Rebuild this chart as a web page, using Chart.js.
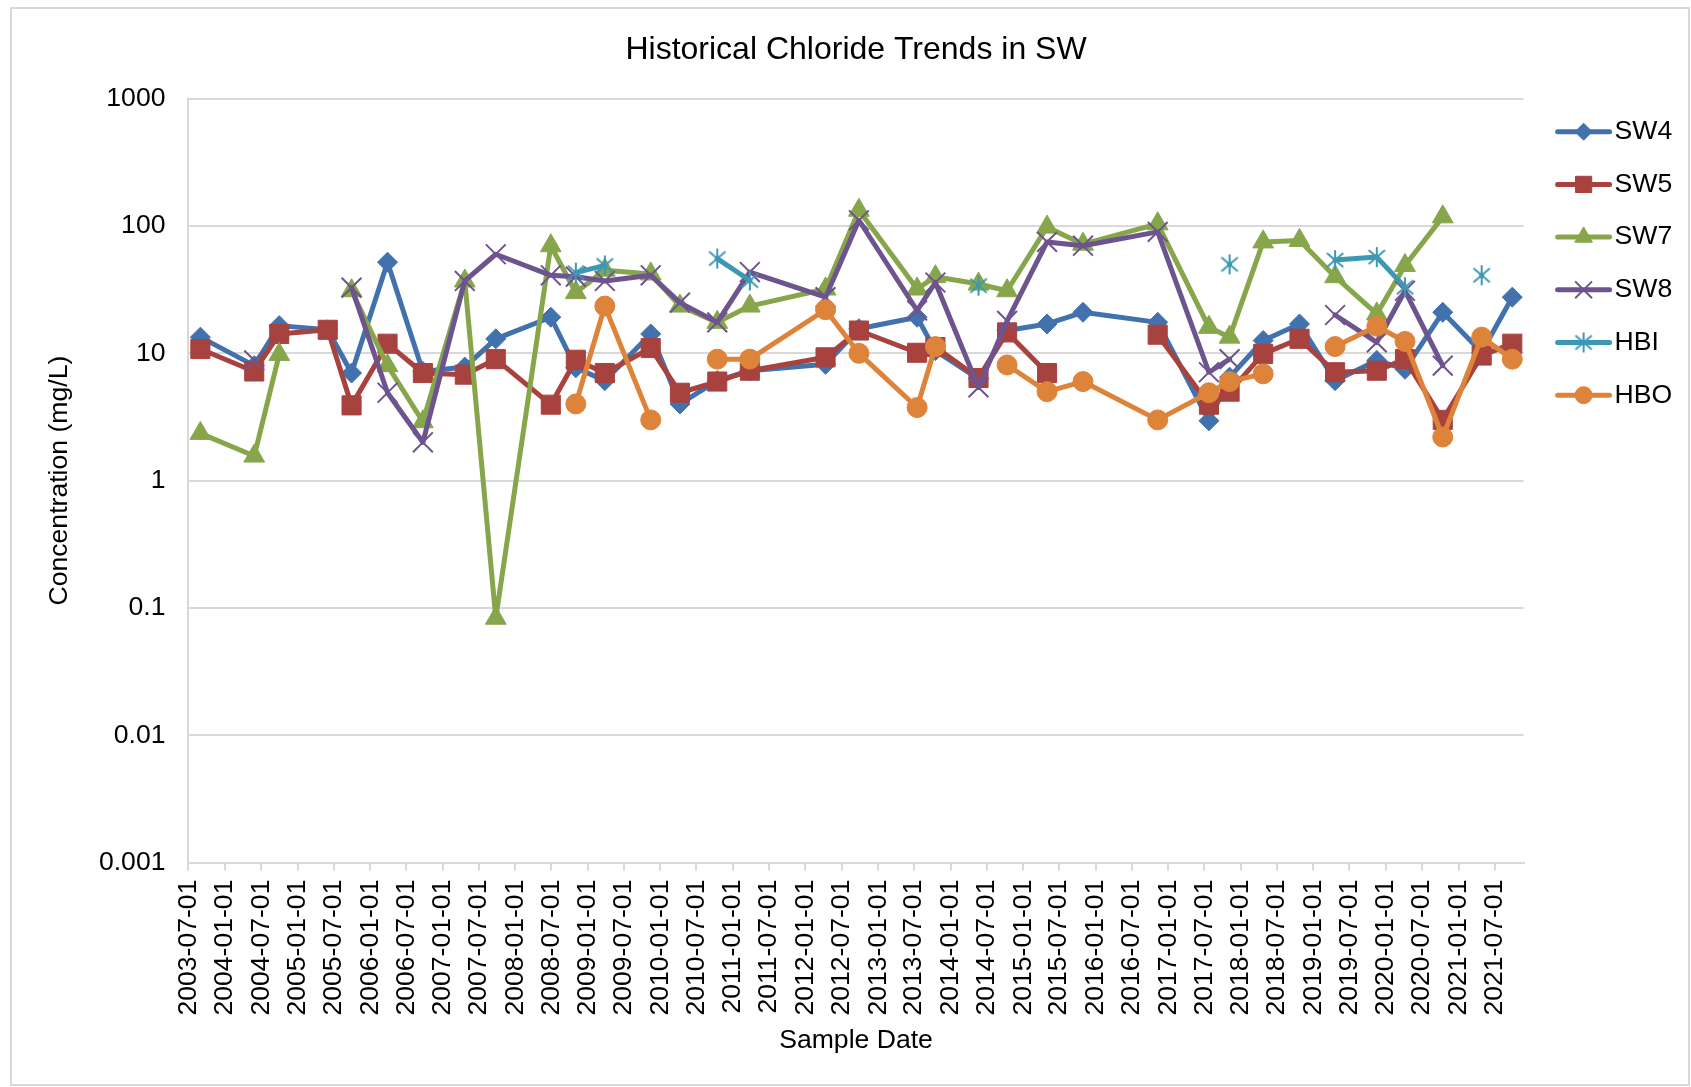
<!DOCTYPE html>
<html>
<head>
<meta charset="utf-8">
<title>Historical Chloride Trends in SW</title>
<script src="https://cdn.jsdelivr.net/npm/chart.js@4.4.1/dist/chart.umd.min.js"></script>
<style>
  html, body { margin: 0; padding: 0; background: #fff; }
</style>
</head>
<body>
<canvas id="chart" width="1691" height="1087"></canvas>
<script>
// sample dates shared by all stations (null = no sample / gap in line)
const sampleDates = [
  '2003-08-30', '2004-05-27', '2004-09-30', '2005-06-01', '2005-09-29', '2006-03-29',
  '2006-09-23', '2007-04-22', '2007-09-25', '2008-06-28', '2008-11-01', '2009-03-27',
  '2009-11-13', '2010-04-09', '2010-10-14', '2011-03-27', '2012-04-11', '2012-09-26',
  '2013-07-16', '2013-10-16', '2014-05-21', '2014-10-12', '2015-05-01', '2015-10-29',
  '2016-11-08', '2017-07-24', '2017-11-05', '2018-04-23', '2018-10-23', '2019-04-20',
  '2019-11-16', '2020-04-06', '2020-10-13', '2021-04-27', '2021-09-28'
];

const sw4 = [13.4, 8, 16.5, 15.3, 7, 52, 7.2, 7.8, 13, 19.2, 7.7, 6.1, 14.2, 4.0, 6.1, 7.3, 8.2, 15.6,
  19.2, 10.5, 6.3, 15.1, 17, 21, 17.5, 2.95, 6.5, 12.6, 17, 6.1, 8.8, 7.5, 21, 10.2, 27.6];
const sw5 = [10.8, 7.2, 14.2, 15.3, 3.9, 11.9, 7.0, 6.8, 9.0, 3.95, 8.9, 7.0, 11, 4.9, 6.0, 7.3, 9.3, 15.1,
  10.1, 11.2, 6.4, 14.6, 7.0, null, 14.0, 3.95, 5.0, 9.9, 13, 7.1, 7.3, 9.0, 3.0, 9.6, 11.9];
const sw7 = [2.35, 1.56, 9.8, null, 31, 8, 2.9, 37, 0.083, 70, 30, 45, 42, 23.5, 17.5, 23.5, 32, 133,
  32, 40, 35, 31, 98, 72, 104, 16, 13.4, 75, 77, 40, 20.4, 49, 118, null, null];
const sw8 = [null, 8.8, null, null, 32.8, 4.9, 2.0, 37, 60, 41, 40, 37, 41, 25, 17.5, 43.5, 27.6, 111,
  21.7, 36, 5.4, 18, 75, 70, 90, 7.1, 9.0, null, null, 20, 12.2, 31, 8.0, null, null];
const hbi = [null, null, null, null, null, null, null, null, null, null, 43, 49, null, null, 55.5, 37.3, null, null,
  null, null, 34, null, null, null, null, null, 50, null, null, 54, 57, 33, null, 41, null];
const hbo = [null, null, null, null, null, null, null, null, null, null, 4.0, 23.5, 3.0, null, 9.0, 9.0, 22, 10,
  3.75, 11.3, null, 8.1, 5.0, 6.0, 3.0, 4.9, 6.0, 6.9, null, 11.3, 16.3, 12.4, 2.2, 13.4, 9.0];

// axis ticks
const tickDates = [
  '2003-07-01', '2004-01-01', '2004-07-01', '2005-01-01', '2005-07-01', '2006-01-01', '2006-07-01',
  '2007-01-01', '2007-07-01', '2008-01-01', '2008-07-01', '2009-01-01', '2009-07-01', '2010-01-01',
  '2010-07-01', '2011-01-01', '2011-07-01', '2012-01-01', '2012-07-01', '2013-01-01', '2013-07-01',
  '2014-01-01', '2014-07-01', '2015-01-01', '2015-07-01', '2016-01-01', '2016-07-01', '2017-01-01',
  '2017-07-01', '2018-01-01', '2018-07-01', '2019-01-01', '2019-07-01', '2020-01-01', '2020-07-01',
  '2021-01-01', '2021-07-01'
];
const yTicks = [0.001, 0.01, 0.1, 1, 10, 100, 1000];

const FONT = '"Liberation Sans", Arial, sans-serif';
Chart.defaults.font.family = FONT;
Chart.defaults.color = '#000';

// Excel style asterisk marker (vertical bar + X)
function asterisk(color, r) {
  const c = document.createElement('canvas');
  c.width = c.height = Math.ceil(r * 2 + 4);
  const g = c.getContext('2d');
  const m = c.width / 2, d = r * 0.82;
  g.strokeStyle = color;
  g.lineWidth = 2;
  g.beginPath();
  g.moveTo(m, m - r); g.lineTo(m, m + r);
  g.moveTo(m - d, m - d * 0.85); g.lineTo(m + d, m + d * 0.85);
  g.moveTo(m + d, m - d * 0.85); g.lineTo(m - d, m + d * 0.85);
  g.stroke();
  return c;
}

function series(values) {
  return sampleDates.map((d, i) => ({ x: Date.parse(d), y: values[i] }));
}

function line(label, values, color, style, radius, order, bw) {
  return {
    label,
    data: series(values),
    borderColor: color,
    backgroundColor: color,
    borderWidth: 5,
    borderJoinStyle: 'round',
    borderCapStyle: 'round',
    pointStyle: style,
    pointRadius: radius,
    pointBackgroundColor: color,
    pointBorderColor: color,
    pointBorderWidth: bw || 1,
    tension: 0,
    spanGaps: false,
    order
  };
}

const datasets = [
  line('SW4', sw4, '#4172ae', 'rectRot', 10, 6),
  line('SW5', sw5, '#a8423f', 'rect', 13.5, 5),
  line('SW7', sw7, '#87a64b', 'triangle', 12, 4),
  line('SW8', sw8, '#6e548f', 'crossRot', 14, 3, 2),
  line('HBI', hbi, '#3d98b3', asterisk('#3d98b3', 10), 10, 2),
  line('HBO', hbo, '#dd833a', 'circle', 10, 1)
];

const frame = {
  id: 'frame',
  beforeDraw(chart) {
    const { ctx, width, height } = chart;
    ctx.save();
    ctx.fillStyle = '#fff';
    ctx.fillRect(0, 0, width, height);
    ctx.strokeStyle = '#d9d9d9';
    ctx.lineWidth = 2;
    ctx.strokeRect(11, 8, width - 13, height - 10);
    ctx.restore();
  }
};

// legend drawn beside the plot: line + marker + name
const sideLegend = {
  id: 'sideLegend',
  afterDraw(chart) {
    const { ctx, chartArea } = chart;
    const x0 = chartArea.right + 32, y0 = chartArea.top + 33;
    ctx.save();
    chart.data.datasets.forEach((ds, i) => {
      const y = y0 + i * 52.7;
      ctx.strokeStyle = ds.borderColor;
      ctx.lineWidth = 5;
      ctx.lineCap = 'round';
      ctx.beginPath();
      ctx.moveTo(x0 + 2, y);
      ctx.lineTo(x0 + 54, y);
      ctx.stroke();
      ctx.lineCap = 'butt';
      ctx.fillStyle = ds.borderColor;
      ctx.lineWidth = ds.pointBorderWidth;
      Chart.helpers.drawPoint(ctx, {
        pointStyle: ds.pointStyle,
        radius: ds.pointRadius * 0.85,
        rotation: 0,
        borderWidth: ds.pointBorderWidth
      }, x0 + 28, y);
      ctx.fillStyle = '#000';
      ctx.font = '26.6px ' + FONT;
      ctx.textBaseline = 'middle';
      ctx.fillText(ds.label, x0 + 59, y);
    });
    ctx.restore();
  }
};

new Chart(document.getElementById('chart'), {
  type: 'line',
  data: { datasets },
  plugins: [frame, sideLegend],
  options: {
    responsive: false,
    animation: false,
    layout: { padding: { left: 22, right: 167.4, top: 0, bottom: 30.5 } },
    plugins: {
      legend: { display: false },
      tooltip: { enabled: false },
      title: {
        display: true,
        text: 'Historical Chloride Trends in SW',
        fullSize: false,
        color: '#000',
        font: { size: 32, weight: 'normal' },
        padding: { top: 31, bottom: 29.3 }
      }
    },
    scales: {
      x: {
        type: 'linear',
        min: Date.parse('2003-07-01'),
        max: Date.parse('2021-11-24'),
        afterBuildTicks: s => { s.ticks = tickDates.map(d => ({ value: Date.parse(d) })); },
        ticks: {
          callback: v => new Date(v).toISOString().slice(0, 10),
          autoSkip: false,
          minRotation: 90,
          maxRotation: 90,
          padding: 9,
          font: { size: 26.6 }
        },
        grid: { drawOnChartArea: false, color: '#d9d9d9', lineWidth: 2, tickLength: 8 },
        border: { color: '#d9d9d9', width: 2 },
        title: { display: true, text: 'Sample Date', font: { size: 26.6 }, padding: { top: 0, bottom: 0 } }
      },
      y: {
        type: 'logarithmic',
        min: 0.001,
        max: 1000,
        afterBuildTicks: s => { s.ticks = yTicks.map(v => ({ value: v })); },
        ticks: { callback: v => String(v), autoSkip: false, padding: 23, font: { size: 26.6 } },
        grid: { color: '#d9d9d9', lineWidth: 2, drawTicks: false },
        border: { color: '#d9d9d9', width: 2 },
        title: {
          display: true,
          text: 'Concentration (mg/L)',
          font: { size: 26.6 },
          padding: { top: 22, bottom: 0 }
        }
      }
    }
  }
});
</script>
</body>
</html>
